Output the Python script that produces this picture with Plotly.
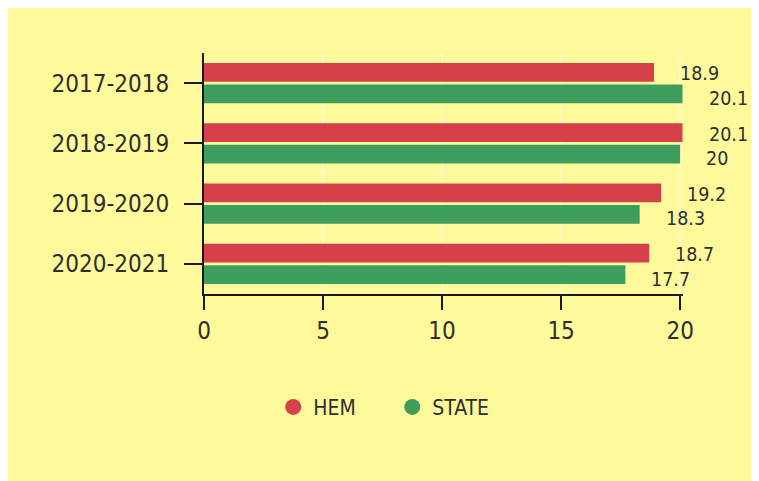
import plotly.graph_objects as go

categories = ["2017-2018", "2018-2019", "2019-2020", "2020-2021"]
hem_values = [18.9, 20.1, 19.2, 18.7]
state_values = [20.1, 20, 18.3, 17.7]
x_ticks = [0, 5, 10, 15, 20]

RED = "#D6404B"
GREEN = "#3F9D5E"
BG = "#FEFA9B"
TXT = "#2E2E2E"
FONT = "DejaVu Sans Condensed, Liberation Sans Narrow, Roboto, sans-serif"

fig = go.Figure()
fig.add_trace(go.Bar(name="HEM", y=categories, x=hem_values, orientation="h",
                     marker=dict(color=RED, line=dict(width=0)), showlegend=False))
fig.add_trace(go.Bar(name="STATE", y=categories, x=state_values, orientation="h",
                     marker=dict(color=GREEN, line=dict(width=0)), showlegend=False))
# legend entries with circular markers
fig.add_trace(go.Scatter(name="HEM", x=[None], y=[None], mode="markers",
                         marker=dict(color=RED, size=22, symbol="circle")))
fig.add_trace(go.Scatter(name="STATE", x=[None], y=[None], mode="markers",
                         marker=dict(color=GREEN, size=22, symbol="circle")))

bargap = 0.29
slot = (1 - bargap) / 2
annotations = []
for i, (h, s) in enumerate(zip(hem_values, state_values)):
    for val, off, ys in ((h, -slot / 2, -1), (s, slot / 2, -4)):
        annotations.append(dict(x=val, y=i + off, xref="x", yref="y",
                                text=f"{val:g}", showarrow=False,
                                xanchor="left", yanchor="middle",
                                xshift=25, yshift=ys, height=20, borderpad=0,
                                font=dict(family=FONT, size=19.5, color=TXT)))

fig.update_layout(
    width=759, height=481,
    paper_bgcolor=BG, plot_bgcolor=BG,
    margin=dict(l=196, r=84, t=45, b=195),
    barmode="group", bargap=bargap, bargroupgap=0.12,
    font=dict(family=FONT, color=TXT),
    annotations=annotations,
    legend=dict(orientation="h", x=0.393, y=-0.47, xanchor="center", yanchor="middle",
                font=dict(family=FONT, size=21, color=TXT), entrywidth=74,
                bgcolor="rgba(0,0,0,0)", itemsizing="trace"),
    xaxis=dict(range=[0, 20.12], tickvals=x_ticks, showline=True, linecolor="#1a1a1a",
               linewidth=2, ticks="outside", ticklen=14, tickwidth=2, tickcolor="#1a1a1a",
               showgrid=True, gridcolor="rgba(255,255,255,0.4)", gridwidth=2,
               zeroline=False, tickfont=dict(family=FONT, size=24, color=TXT)),
    yaxis=dict(type="category", autorange="reversed", showline=True, linecolor="#1a1a1a",
               linewidth=2, ticks="outside", ticklen=18, tickwidth=2, tickcolor="#1a1a1a",
               showgrid=False, ticklabelstandoff=10,
               tickfont=dict(family=FONT, size=24, color=TXT)),
)

fig.write_html("out.html")
